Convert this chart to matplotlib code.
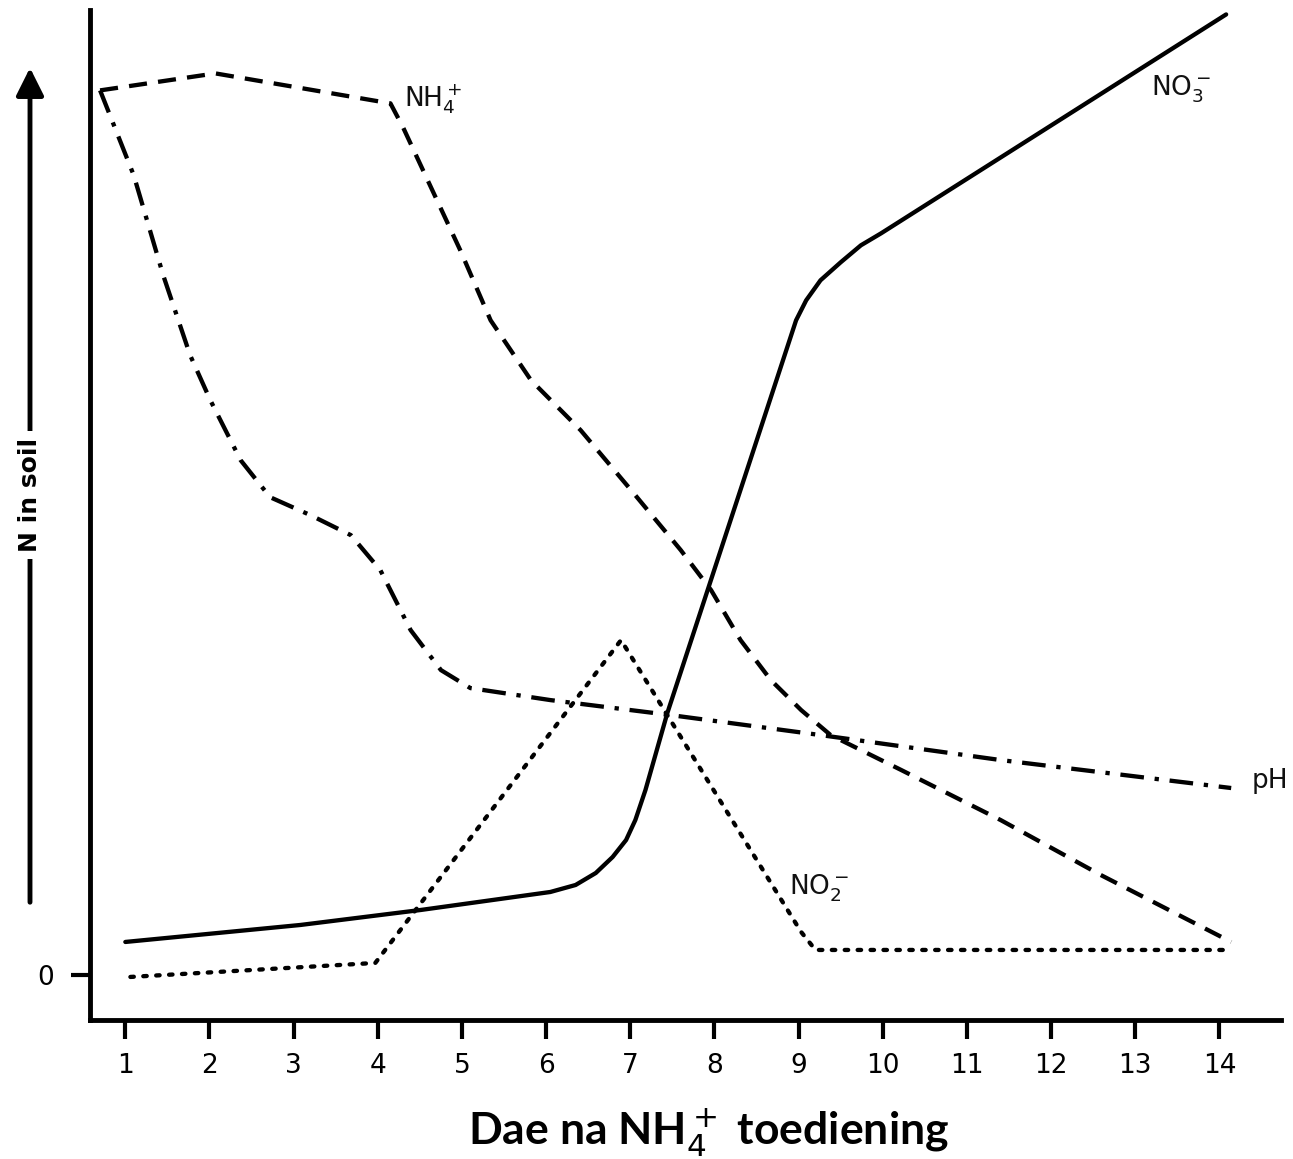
import matplotlib
matplotlib.use("Agg")
import matplotlib.pyplot as plt
from matplotlib.patches import FancyArrowPatch

days = list(range(1, 15))

nh4_x = [0.70, 2.07, 4.15, 4.30, 4.51, 4.98, 5.34, 5.82, 6.41, 7.01, 7.60, 7.96, 8.31, 8.67, 9.03, 9.38, 10.22, 11.40, 12.59, 14.14]
nh4_y = [88.5, 90.2, 87.2, 84.8, 81.0, 72.5, 65.5, 59.5, 54.5, 48.5, 42.5, 38.5, 33.5, 29.5, 26.5, 24.0, 20.5, 15.5, 10.0, 3.3]

ph_x = [0.70, 1.10, 1.45, 1.77, 2.01, 2.37, 2.72, 3.20, 3.68, 4.03, 4.39, 4.75, 5.10, 6.05, 7.48, 9.26, 11.40, 14.14]
ph_y = [88.5, 80.0, 70.0, 62.0, 57.5, 51.5, 47.8, 46.0, 44.0, 40.5, 34.5, 30.5, 28.7, 27.5, 26.0, 24.0, 21.5, 18.7]

no3_x = [1.00, 3.08, 4.51, 6.05, 6.35, 6.59, 6.79, 6.95, 7.06, 7.18, 7.44, 8.97, 9.09, 9.26, 9.50, 9.74, 9.98, 14.08]
no3_y = [3.3, 5.0, 6.5, 8.3, 9.0, 10.2, 11.8, 13.5, 15.5, 18.5, 26.2, 65.5, 67.5, 69.5, 71.3, 73.0, 74.2, 96.1]

no2_x = [1.06, 3.97, 6.89, 9.03, 9.20, 14.14]
no2_y = [-0.2, 1.2, 33.5, 4.3, 2.5, 2.5]

fig = plt.figure(figsize=(12.93, 11.59), dpi=100)
ax = fig.add_axes([0.0696, 0.12, 0.921, 0.871])
ax.set_xlim(0.58, 14.73)
ax.set_ylim(-4.5, 96.5)

lw = 3.1
ax.plot(nh4_x, nh4_y, color="black", lw=lw, dashes=(4.2, 2.6))
ax.plot(ph_x, ph_y, color="black", lw=lw, dashes=(5.5, 2.5, 1, 2.5))
ax.plot(no3_x, no3_y, color="black", lw=lw, solid_capstyle="round", solid_joinstyle="round")
ax.plot(no2_x, no2_y, color="black", lw=lw, dashes=(0.8, 2.2), dash_capstyle="round")

lab_kw = dict(fontsize=19, family="DejaVu Sans", color="#111111", va="baseline", ha="left")
ax.text(4.31, 86.9, r"NH$_4^+$", **lab_kw)
ax.text(13.19, 88.0, r"NO$_3^-$", **lab_kw)
ax.text(8.88, 8.0, r"NO$_2^-$", **lab_kw)
ax.text(14.38, 18.7, "pH", **lab_kw)

for s in ["top", "right"]:
    ax.spines[s].set_visible(False)
ax.spines["left"].set_linewidth(3.5)
ax.spines["bottom"].set_linewidth(3.5)

tick_font = ["Liberation Sans Narrow", "DejaVu Sans"]
ax.set_xticks(days)
ax.set_xticklabels([str(d) for d in days], fontsize=19, family=tick_font)
ax.tick_params(axis="x", direction="out", length=14, width=3, pad=10)
ax.set_yticks([0])
ax.set_yticklabels(["0"], fontsize=19, family=tick_font)
ax.tick_params(axis="y", direction="out", length=14, width=3, pad=12)

fig.text(709 / 1293, 1 - 1133 / 1159, r"Dae na NH$_4^+$ toediening", fontsize=32,
         family="Lato", fontweight="bold", ha="center", va="center")

# y axis label with arrow
fig.patches.append(FancyArrowPatch(
    (30 / 1293, 1 - 905 / 1159), (30 / 1293, 1 - 65 / 1159),
    transform=fig.transFigure, arrowstyle="-|>,head_length=1.2,head_width=0.6",
    mutation_scale=14, lw=3.5, color="black"))
fig.text(30 / 1293, 1 - 495 / 1159, "N in soil", rotation=90, ha="center", va="center",
         fontsize=18, family=tick_font, fontweight="bold",
         bbox=dict(facecolor="white", edgecolor="none", pad=5))

fig.savefig("out.png", dpi=100)
